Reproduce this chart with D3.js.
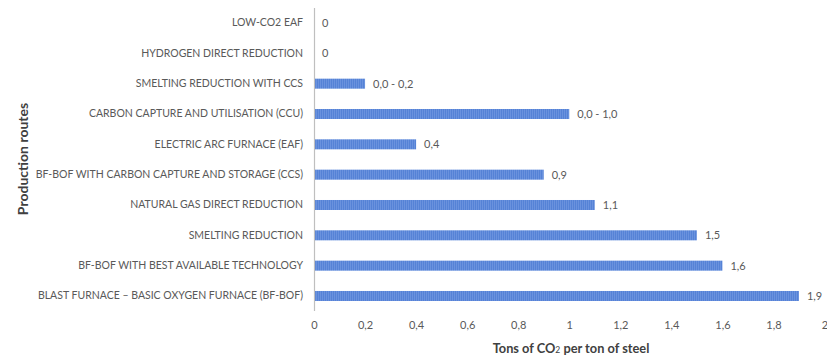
<!DOCTYPE html>
<html>
<head>
<meta charset="utf-8">
<script src="https://cdn.jsdelivr.net/npm/d3@7"></script>
<style>
  html, body { margin: 0; padding: 0; background: #ffffff; }
  svg { display: block; font-family: Lato, "Open Sans", sans-serif; }
</style>
</head>
<body>
<svg id="chart" width="827" height="357"></svg>
<script>
// Production routes, top to bottom
const routes = [
  "LOW-CO2 EAF",
  "HYDROGEN DIRECT REDUCTION",
  "SMELTING REDUCTION WITH CCS",
  "CARBON CAPTURE AND UTILISATION (CCU)",
  "ELECTRIC ARC FURNACE (EAF)",
  "BF-BOF WITH CARBON CAPTURE AND STORAGE (CCS)",
  "NATURAL GAS DIRECT REDUCTION",
  "SMELTING REDUCTION",
  "BF-BOF WITH BEST AVAILABLE TECHNOLOGY",
  "BLAST FURNACE \u2013 BASIC OXYGEN FURNACE (BF-BOF)"
];
// Emissions, tons of CO2 per ton of steel (upper bound for ranges)
const emissions = [0, 0, 0.2, 1.0, 0.4, 0.9, 1.1, 1.5, 1.6, 1.9];
// Value labels as printed next to each bar
const valueLabels = ["0", "0", "0,0 - 0,2", "0,0 - 1,0", "0,4", "0,9", "1,1", "1,5", "1,6", "1,9"];
const xTicks = [0, 0.2, 0.4, 0.6, 0.8, 1, 1.2, 1.4, 1.6, 1.8, 2];

const svg = d3.select("#chart");
const plot = { left: 314, right: 824.5, top: 8, bottom: 311 };

const x = d3.scaleLinear().domain([0, 2]).range([plot.left, plot.right]);
const y = d3.scaleBand().domain(routes).range([plot.top, plot.bottom]).paddingInner(0.67).paddingOuter(0.33);

// striped fill for the bars
const defs = svg.append("defs");
const pat = defs.append("pattern")
  .attr("id", "stripes").attr("patternUnits", "userSpaceOnUse")
  .attr("width", 2).attr("height", 4);
pat.append("rect").attr("width", 2).attr("height", 4).attr("fill", "#5582d6");
pat.append("rect").attr("width", 1).attr("height", 4).attr("fill", "#6a92de");

const fmt = v => String(v).replace(".", ",");

// bars
svg.append("g").selectAll("rect").data(routes).join("rect")
  .attr("x", x(0))
  .attr("y", d => y(d))
  .attr("width", (d, i) => x(emissions[i]) - x(0))
  .attr("height", y.bandwidth())
  .attr("fill", "url(#stripes)");

// value labels
svg.append("g").selectAll("text").data(routes).join("text")
  .attr("x", (d, i) => x(emissions[i]) + 8)
  .attr("y", d => y(d) + y.bandwidth() / 2)
  .attr("dy", "0.35em")
  .attr("font-size", 11)
  .attr("fill", "#595959")
  .text((d, i) => valueLabels[i]);

// y axis (category names)
const yAxis = svg.append("g").attr("transform", `translate(${plot.left},0)`)
  .call(d3.axisLeft(y).tickSize(0).tickPadding(11));
yAxis.select(".domain").attr("stroke", "#bfbfbf").attr("stroke-width", 1.2)
  .attr("d", `M0.5,${plot.top}V${plot.bottom}`);
yAxis.selectAll("text").attr("font-size", 10.5).attr("fill", "#595959")
  .attr("font-family", "Lato, 'Open Sans', sans-serif");

// x axis (tick labels only)
const xAxis = svg.append("g").attr("transform", `translate(0,${plot.bottom})`)
  .call(d3.axisBottom(x).tickValues(xTicks).tickFormat(fmt).tickSize(0).tickPadding(10));
xAxis.select(".domain").remove();
xAxis.selectAll("text").attr("font-size", 11).attr("fill", "#595959")
  .attr("font-family", "Lato, 'Open Sans', sans-serif");

// axis titles
const xt = svg.append("text")
  .attr("x", 571).attr("y", 353)
  .attr("text-anchor", "middle")
  .attr("font-size", 12.8).attr("font-weight", "bold").attr("fill", "#404040");
xt.append("tspan").text("Tons of CO");
xt.append("tspan").attr("font-size", 8.5).attr("font-weight", "normal").text("2");
xt.append("tspan").text(" per ton of steel");

svg.append("text")
  .attr("transform", "translate(28,159) rotate(-90)")
  .attr("text-anchor", "middle")
  .attr("font-size", 14).attr("font-weight", "bold").attr("fill", "#404040")
  .text("Production routes");
</script>
</body>
</html>
